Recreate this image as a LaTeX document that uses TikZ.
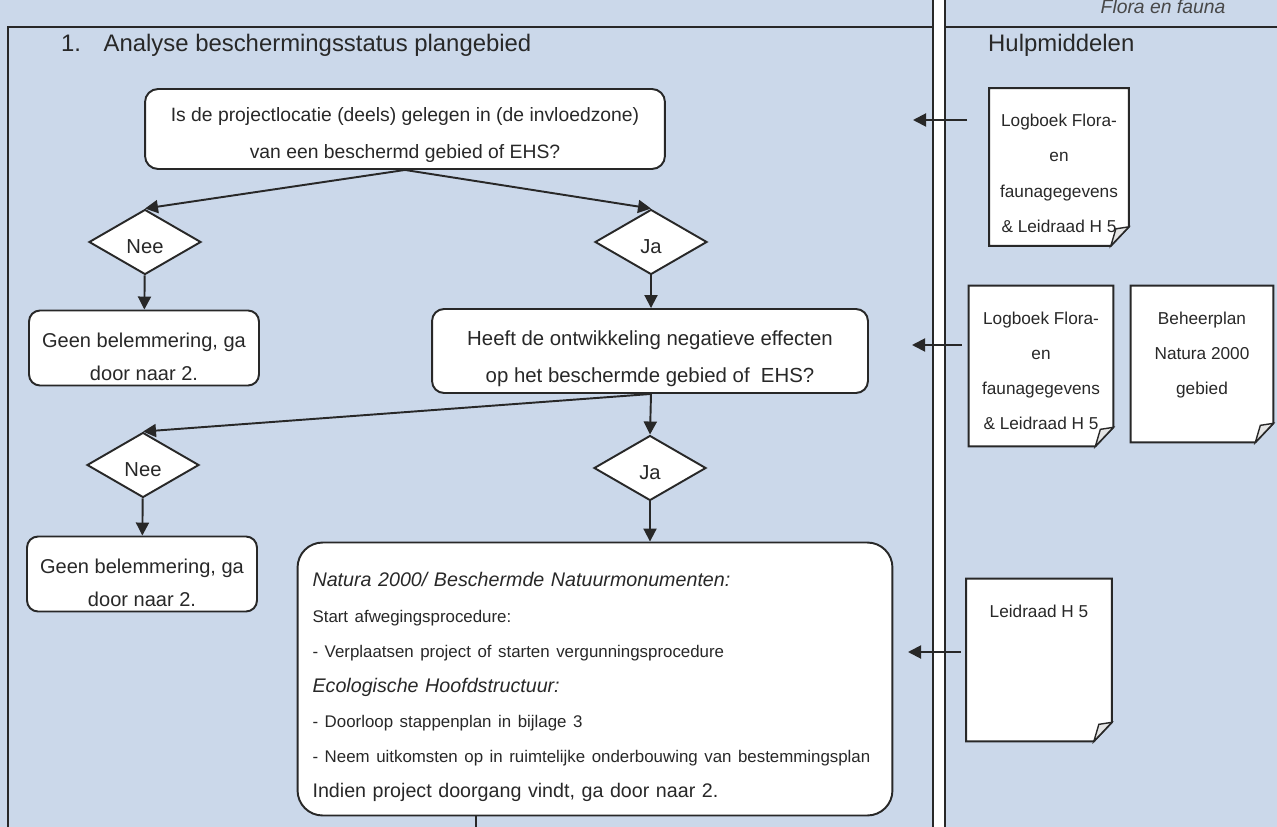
\documentclass[tikz,border=0pt]{standalone}
\usepackage{fontspec}
\setmainfont{Liberation Sans}
\usetikzlibrary{arrows.meta,calc,positioning,shapes.geometric}
\definecolor{scan}{RGB}{203,216,234}
\definecolor{ink}{RGB}{40,40,40}
\tikzset{%
	question/.style  = {draw=ink, fill=white, rectangle, rounded corners=0.26cm, line width=1.1pt, align=center, text=ink},
	decision/.style  = {draw=ink, fill=white, diamond, inner sep=0pt, minimum width=2.24cm, minimum height=1.3cm, line width=1.1pt, text=ink, text height=13.6pt, text depth=0pt, font=\fontsize{11.5}{13}\selectfont},
	result/.style    = {question, minimum width=4.6cm, minimum height=1.5cm, inner ysep=0pt, rounded corners=0.22cm, text height=39.8pt, text depth=2.85pt, font=\fontsize{11.4}{18.8}\selectfont},
	docpage/.style   = {fill=white, rectangle, inner sep=0pt},
	doctext/.style   = {anchor=north, yshift=-0.4cm, align=center, text=ink, font=\fontsize{9.8}{20}\selectfont},
	header/.style    = {anchor=west, text=ink, font=\fontsize{13.6}{16}\selectfont},
	arrow/.style     = {draw=ink, line width=1.1pt, -{Triangle[length=0.26cm, width=0.26cm]}},
	connector/.style = {draw=ink, line width=1.1pt},
}
\begin{document}
\begin{tikzpicture}[x=0.02cm, y=-0.02cm]
	\fill[scan] (0,0) rectangle (1277,827);
	\useasboundingbox (0,0) rectangle (1277,827);
	% frame and divider
	\draw[ink, line width=1.1pt] (8,827) -- (8,27) -- (1277,27);
	\filldraw[fill=white, draw=ink, line width=1.1pt] (933,-5) rectangle (945,832);

	\node[header] (titel) at (55,45) {1.\hspace{0.45cm}Analyse beschermingsstatus plangebied};
	\node[header] (hulp) at (982,45) {Hulpmiddelen};
	\node[anchor=base, text=ink!85, font=\itshape\fontsize{11}{13}\selectfont] (hand) at (1163,14) {Flora en fauna};

	% flow
	\node[question, minimum width=10.4cm, minimum height=1.6cm, text height=36pt, text depth=2.75pt, font=\fontsize{11}{21}\selectfont] (gebied) at (405,129) {Is de projectlocatie (deels) gelegen in (de invloedzone)\\van een beschermd gebied of EHS?};
	\node[decision] (nee1) at (145,242) {Nee};
	\node[decision] (ja1) at (651,242) {Ja};
	\node[result] (geen1) at (144,348) {Geen belemmering, ga\\door naar 2.};
	\node[question, minimum width=8.72cm, minimum height=1.68cm, rounded corners=0.24cm, text height=38.2pt, text depth=2.9pt, font=\fontsize{11.6}{21}\selectfont] (effect) at (650,351) {Heeft de ontwikkeling negatieve effecten\\op het beschermde gebied of\ \ EHS?};
	\node[decision] (nee2) at (143,465) {Nee};
	\node[decision] (ja2) at (650,468) {Ja};
	\node[result] (geen2) at (142,574) {Geen belemmering, ga\\door naar 2.};
	\node[question, align=left, text width=11.3cm, inner xsep=0.3cm, minimum height=5.46cm, rounded corners=0.5cm, text height=17.7pt, text depth=122.5pt, font=\fontsize{11.2}{20}\selectfont] (maatregel) at (595,679) {%
		{\itshape Natura 2000/ Beschermde Natuurmonumenten:}\\
		{\fontsize{9.6}{20}\selectfont Start afwegingsprocedure:}\\
		{\fontsize{9.6}{20}\selectfont - Verplaatsen project of starten vergunningsprocedure}\\
		{\itshape Ecologische Hoofdstructuur:}\\
		{\fontsize{9.6}{20}\selectfont - Doorloop stappenplan in bijlage 3}\\
		{\fontsize{9.6}{20}\selectfont - Neem uitkomsten op in ruimtelijke onderbouwing van bestemmingsplan}\\
		Indien project doorgang vindt, ga door naar 2.};
	\coordinate (verder) at (476,827);

	\draw[arrow] (gebied.south) -- (nee1.north);
	\draw[arrow] (gebied.south) -- (ja1.north);
	\draw[arrow] (nee1) -- (geen1);
	\draw[arrow] (ja1) -- (ja1 |- effect.north);
	\draw[arrow] (ja1 |- effect.south) -- (nee2.north);
	\draw[arrow] (ja1 |- effect.south) -- (ja2.north);
	\draw[arrow] (nee2) -- (geen2);
	\draw[arrow] (ja2) -- (ja2 |- maatregel.north);
	\draw[connector] (verder |- maatregel.south) -- (verder);

	% hulpmiddelen
	\node[docpage, minimum width=2.78cm, minimum height=3.14cm, label={[doctext]north:{Logboek Flora-\\en\\faunagegevens\\\& Leidraad H 5}}] (log1) at (1059,167) {};
	\node[docpage, minimum width=2.88cm, minimum height=3.2cm, label={[doctext]north:{Logboek Flora-\\en\\faunagegevens\\\& Leidraad H 5}}] (log2) at (1041,366) {};
	\node[docpage, minimum width=2.84cm, minimum height=3.12cm, label={[doctext]north:{Beheerplan\\Natura 2000\\gebied}}] (beheer) at (1202,364) {};
	\node[docpage, minimum width=2.9cm, minimum height=3.24cm, label={[doctext]north:{Leidraad H 5}}] (leid) at (1039,660) {};
	\foreach \d in {log1,log2,beheer,leid}{
		\fill[scan] ($(\d.south east)+(0,-19)$) -- (\d.south east) -- ($(\d.south east)+(-18,0)$) -- cycle;
		\draw[ink, line width=1.1pt] (\d.north west) -- (\d.north east) -- ($(\d.south east)+(0,-19)$) -- ($(\d.south east)+(-18,0)$) -- (\d.south west) -- cycle;
		\filldraw[fill=gray!20, draw=ink, line width=0.8pt] ($(\d.south east)+(0,-19)$) -- ($(\d.south east)+(-13,-17)$) -- ($(\d.south east)+(-18,0)$) -- cycle;
	}
	\coordinate (in1) at (913,120);
	\coordinate (in2) at (912,345);
	\coordinate (in3) at (908,652);
	\draw[arrow, shorten <=0.44cm] (log1.west |- in1) -- (in1);
	\draw[arrow, shorten <=0.14cm] (log2.west |- in2) -- (in2);
	\draw[arrow, shorten <=0.1cm] (leid.west |- in3) -- (in3);
\end{tikzpicture}
\end{document}
